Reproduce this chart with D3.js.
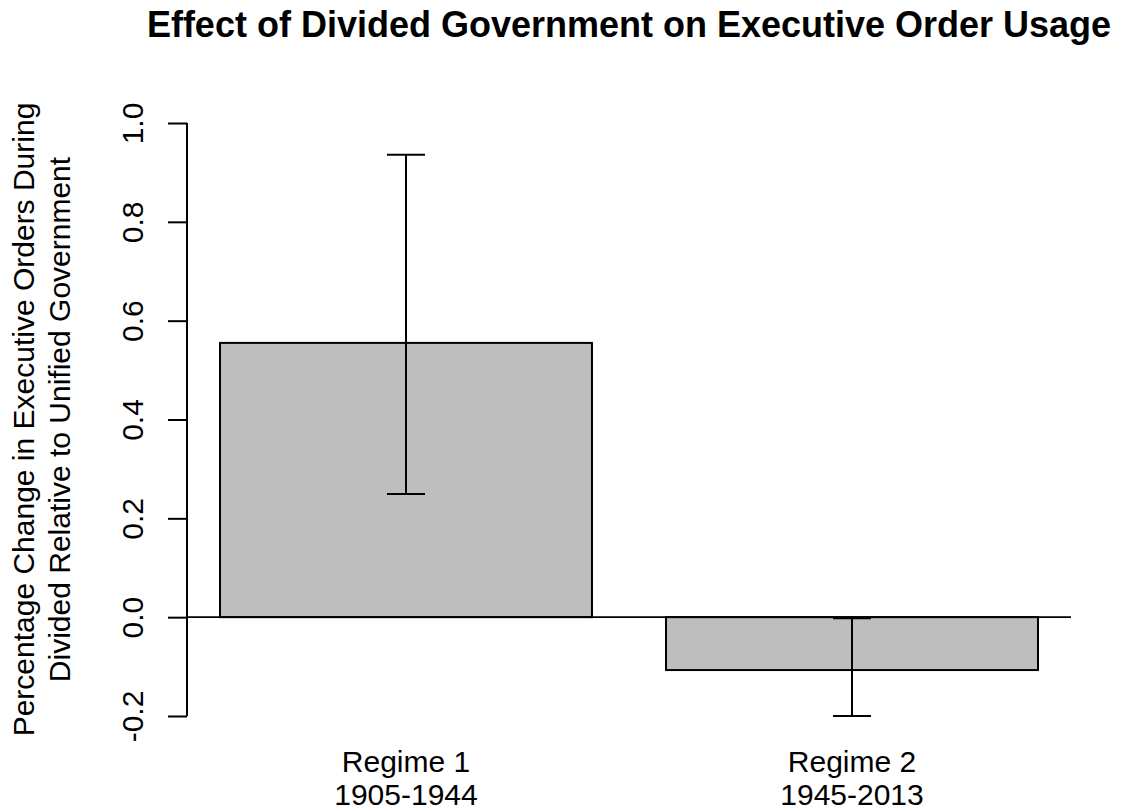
<!DOCTYPE html>
<html>
<head>
<meta charset="utf-8">
<script src="https://cdn.jsdelivr.net/npm/d3@7"></script>
<style>
  html, body { margin: 0; padding: 0; background: #ffffff; }
  svg { display: block; font-family: "Liberation Sans", Arial, Helvetica, sans-serif; }
</style>
</head>
<body>
<svg id="chart" width="1124" height="811"></svg>
<script>
// Regimes and their estimated effects with confidence bounds
const regimes = ["Regime 1", "Regime 2"];
const periods = ["1905-1944", "1945-2013"];
const effects = [0.555, -0.107];
const lowerBounds = [0.249, -0.200];
const upperBounds = [0.936, -0.002];
const yTicks = [-0.2, 0.0, 0.2, 0.4, 0.6, 0.8, 1.0];

const titleText = "Effect of Divided Government on Executive Order Usage";
const yTitleLines = ["Percentage Change in Executive Orders During",
                     "Divided Relative to Unified Government"];

const svg = d3.select("#chart");

// Plot region
const plotLeft = 187, plotRight = 1071;

const x = d3.scaleBand()
  .domain(regimes)
  .range([plotLeft, plotRight])
  .paddingInner(0.166)
  .paddingOuter(0.074);

const y = d3.scaleLinear()
  .domain([-0.2, 1.0])
  .range([716, 123]);

const data = regimes.map((r, i) => ({
  regime: r, period: periods[i], value: effects[i],
  lo: lowerBounds[i], hi: upperBounds[i]
}));

// Bars
svg.append("g")
  .selectAll("rect")
  .data(data)
  .join("rect")
  .attr("x", d => x(d.regime))
  .attr("width", x.bandwidth())
  .attr("y", d => y(Math.max(0, d.value)))
  .attr("height", d => Math.abs(y(d.value) - y(0)))
  .attr("fill", "#bebebe")
  .attr("stroke", "#000")
  .attr("stroke-width", 2);

// Zero reference line
svg.append("line")
  .attr("x1", plotLeft).attr("x2", plotRight)
  .attr("y1", y(0)).attr("y2", y(0))
  .attr("stroke", "#000")
  .attr("stroke-width", 1.6);

// Error bars with caps
const capHalf = 19;
const err = svg.append("g")
  .attr("stroke", "#000")
  .attr("stroke-width", 2)
  .selectAll("g")
  .data(data)
  .join("g");

err.append("line")
  .attr("x1", d => x(d.regime) + x.bandwidth() / 2)
  .attr("x2", d => x(d.regime) + x.bandwidth() / 2)
  .attr("y1", d => y(d.lo))
  .attr("y2", d => y(d.hi));
err.append("line")
  .attr("x1", d => x(d.regime) + x.bandwidth() / 2 - capHalf)
  .attr("x2", d => x(d.regime) + x.bandwidth() / 2 + capHalf)
  .attr("y1", d => y(d.lo))
  .attr("y2", d => y(d.lo));
err.append("line")
  .attr("x1", d => x(d.regime) + x.bandwidth() / 2 - capHalf)
  .attr("x2", d => x(d.regime) + x.bandwidth() / 2 + capHalf)
  .attr("y1", d => y(d.hi))
  .attr("y2", d => y(d.hi));

// Y axis
const yAxis = svg.append("g")
  .attr("transform", `translate(${plotLeft},0)`)
  .call(d3.axisLeft(y)
    .tickValues(yTicks)
    .tickSize(19)
    .tickSizeOuter(0)
    .tickFormat(d3.format(".1f")));

yAxis.select(".domain")
  .attr("stroke", "#000")
  .attr("stroke-width", 2)
  .attr("d", `M0,${y(1.0)}V${y(-0.2)}`);
yAxis.selectAll(".tick line")
  .attr("stroke", "#000")
  .attr("stroke-width", 2);
yAxis.selectAll(".tick text")
  .attr("x", null).attr("dy", null)
  .attr("transform", "translate(-44,0) rotate(-90)")
  .attr("text-anchor", "middle")
  .attr("fill", "#000")
  .style("font-size", "30px")
  .style("font-family", "'Liberation Sans', Arial, sans-serif")
  .text(d => d3.format(".1f")(d).replace("−", "-"));

// Category labels
const xl = svg.append("g")
  .selectAll("text")
  .data(data)
  .join("text")
  .attr("text-anchor", "middle")
  .attr("font-size", 30)
  .attr("fill", "#000");
xl.append("tspan")
  .attr("x", d => x(d.regime) + x.bandwidth() / 2)
  .attr("y", 772)
  .text(d => d.regime);
xl.append("tspan")
  .attr("x", d => x(d.regime) + x.bandwidth() / 2)
  .attr("y", 805)
  .text(d => d.period);

// Y axis title (two lines)
const yMid = (y(1.048) + y(-0.248)) / 2;
svg.append("g")
  .selectAll("text")
  .data(yTitleLines)
  .join("text")
  .attr("transform", (d, i) => `translate(${34 + i * 36},${yMid}) rotate(-90)`)
  .attr("text-anchor", "middle")
  .attr("font-size", 30)
  .attr("fill", "#000")
  .text(d => d);

// Title
svg.append("text")
  .attr("x", (plotLeft + plotRight) / 2)
  .attr("y", 37)
  .attr("text-anchor", "middle")
  .attr("font-size", 36)
  .attr("font-weight", "bold")
  .attr("fill", "#000")
  .text(titleText);
</script>
</body>
</html>
